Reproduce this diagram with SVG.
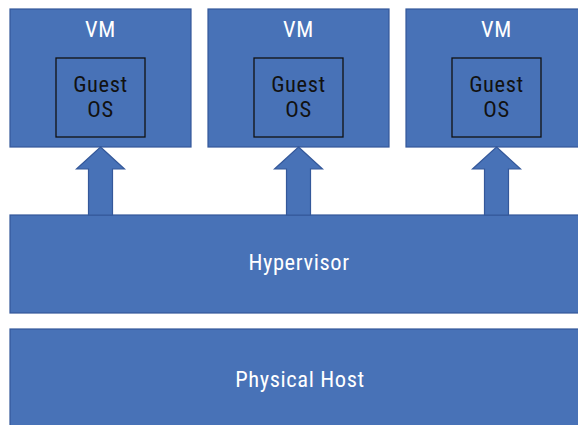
<svg xmlns="http://www.w3.org/2000/svg" width="578" height="425" viewBox="0 0 578 425">
  <style>
    .box { fill: #4872B7; stroke: #34589A; stroke-width: 1.2; }
    .guest { fill: none; stroke: #111; stroke-width: 1.3; }
    .arrow { fill: #4872B7; stroke: #34589A; stroke-width: 1.2; }
    .lbl { font-family: "Liberation Sans Narrow", "Roboto Condensed", Roboto, "Liberation Sans", sans-serif; font-stretch: condensed; font-size: 22.5px; letter-spacing: 0.6px; text-anchor: middle; }
    .w { fill: #ffffff; }
    .k { fill: #111111; }
  </style>
  <defs>
    <!-- block arrow pointing up, tip at origin -->
    <path id="up" d="M0,0 L24,22 L12,22 L12,68 L-12,68 L-12,22 L-24,22 Z"/>
  </defs>

  <g id="physical-host">
    <rect class="box" x="10" y="329" width="578" height="110"/>
    <text class="lbl w" x="300" y="387">Physical Host</text>
  </g>

  <g id="hypervisor">
    <rect class="box" x="10" y="215" width="578" height="98"/>
    <text class="lbl w" x="299" y="270">Hypervisor</text>
  </g>

  <g id="vm1">
    <rect class="box" x="10" y="9" width="181" height="138"/>
    <text class="lbl w" x="100.5" y="37">VM</text>
    <rect class="guest" x="56" y="58" width="89" height="79"/>
    <text class="lbl k" x="100.5" y="92">Guest</text>
    <text class="lbl k" x="100.5" y="117">OS</text>
  </g>

  <g id="vm2">
    <rect class="box" x="208" y="9" width="181" height="138"/>
    <text class="lbl w" x="298.5" y="37">VM</text>
    <rect class="guest" x="254" y="58" width="89" height="79"/>
    <text class="lbl k" x="298.5" y="92">Guest</text>
    <text class="lbl k" x="298.5" y="117">OS</text>
  </g>

  <g id="vm3">
    <rect class="box" x="406" y="9" width="181" height="138"/>
    <text class="lbl w" x="496.5" y="37">VM</text>
    <rect class="guest" x="452" y="58" width="89" height="79"/>
    <text class="lbl k" x="496.5" y="92">Guest</text>
    <text class="lbl k" x="496.5" y="117">OS</text>
  </g>

  <g id="connectors">
    <use href="#up" class="arrow" x="100.5" y="147"/>
    <use href="#up" class="arrow" x="298.5" y="147"/>
    <use href="#up" class="arrow" x="496.5" y="147"/>
  </g>
</svg>
